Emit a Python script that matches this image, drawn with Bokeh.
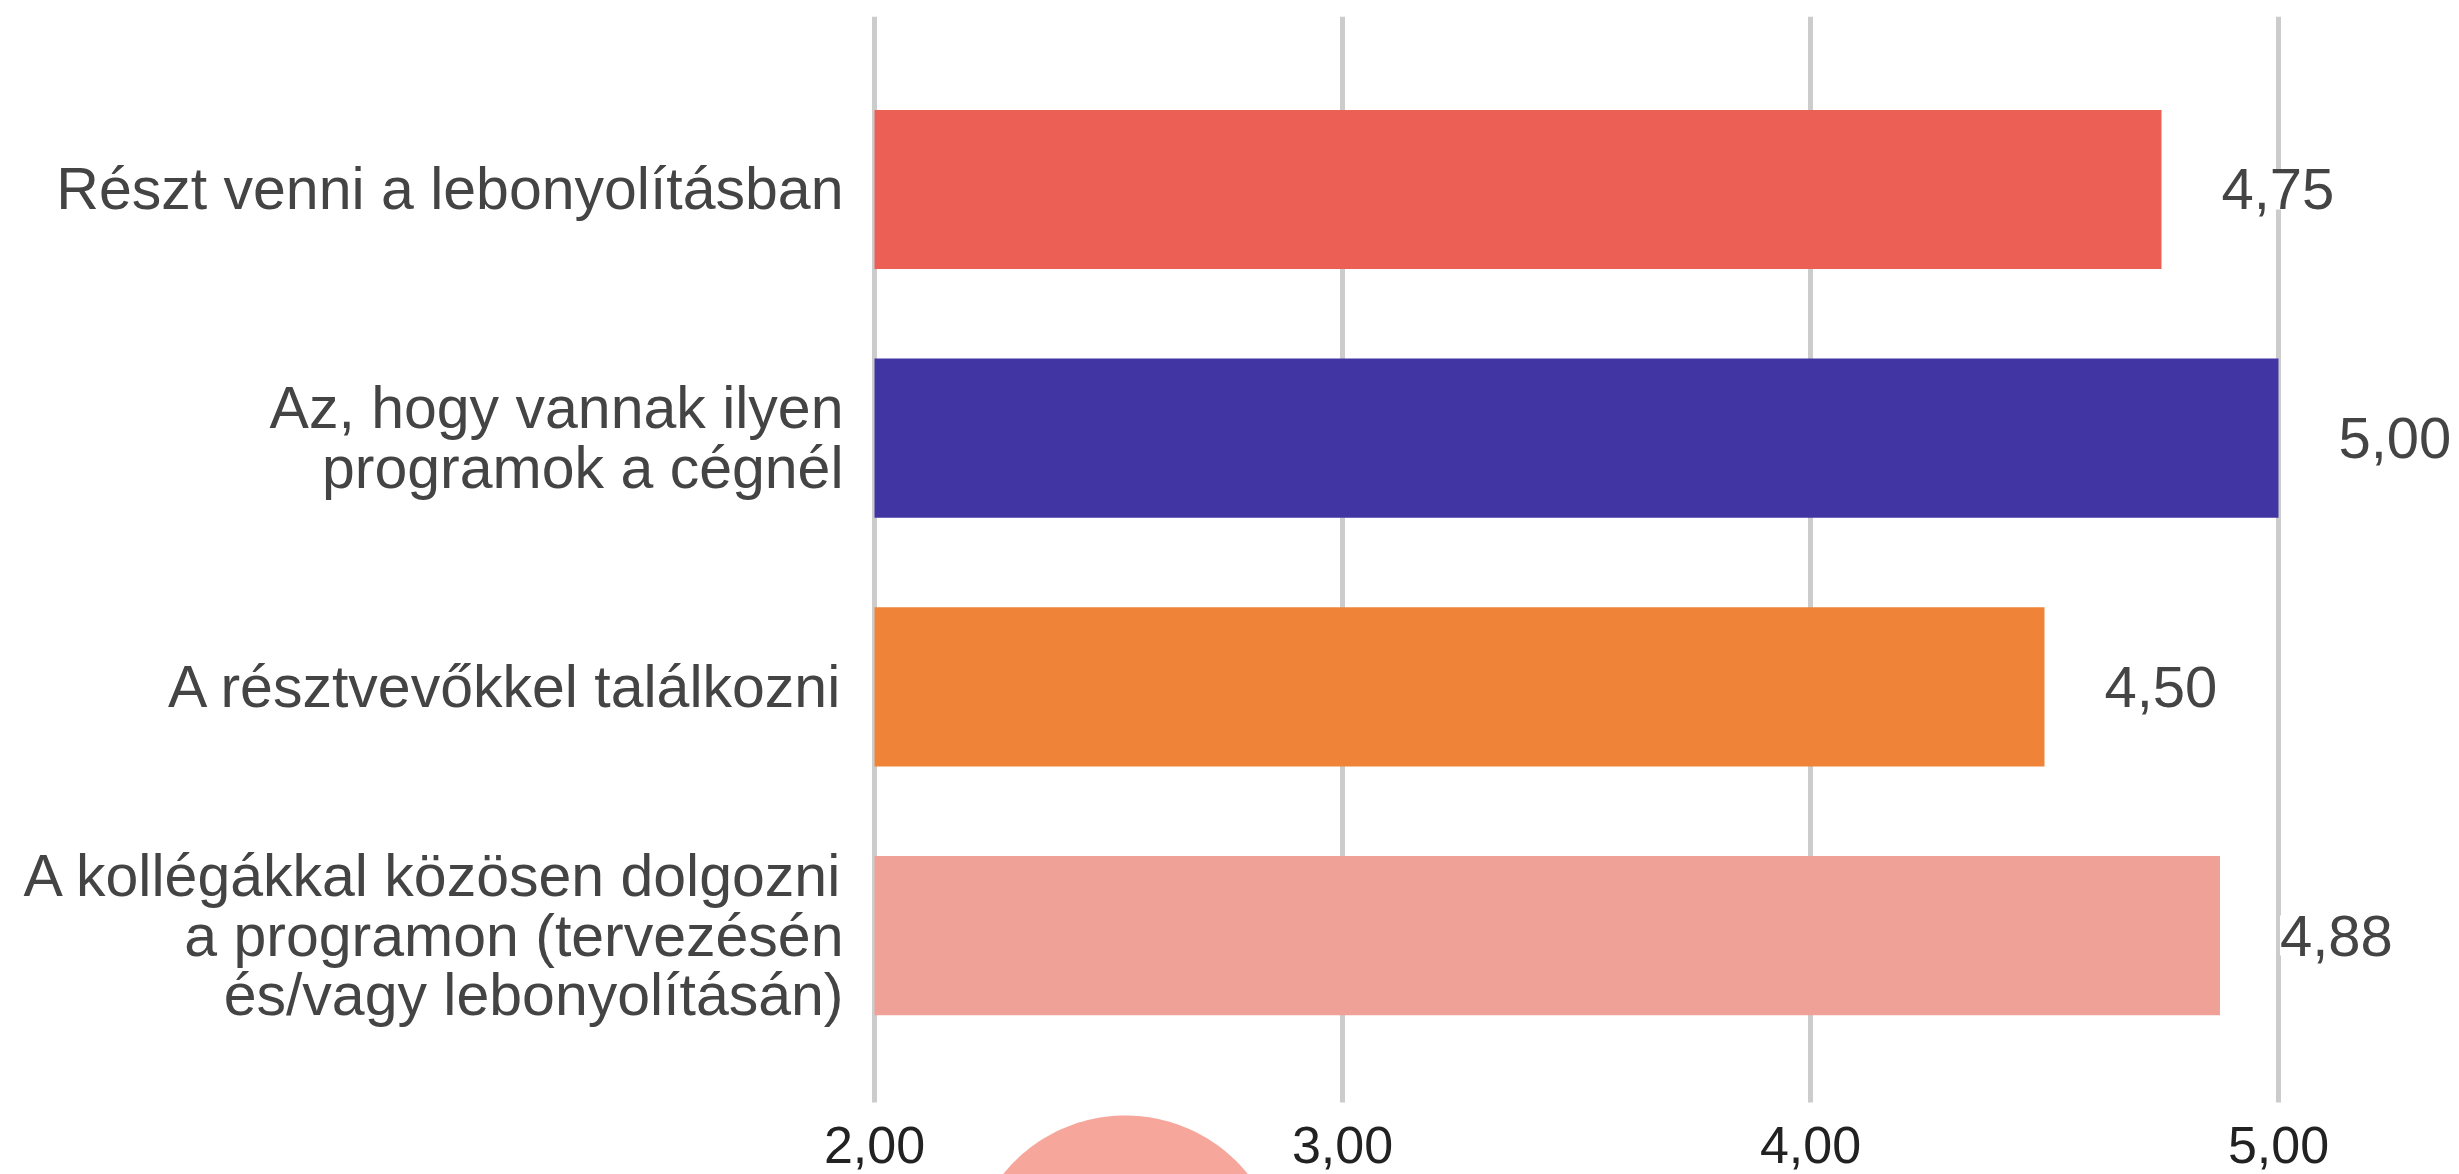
import numpy as np
from bokeh.plotting import figure
from bokeh.models import (Range1d, FixedTicker, ColumnDataSource, LabelSet, PolyAnnotation)
from bokeh.core.properties import value
from bokeh.embed import file_html
from bokeh.resources import INLINE

# ---- data ----
categories = [
    "Részt venni a lebonyolításban",
    "Az, hogy vannak ilyen\nprogramok a cégnél",
    "A résztvevőkkel találkozni",
    "A kollégákkal közösen dolgozni\na programon (tervezésén\nés/vagy lebonyolításán)",
]
values = [4.75, 5.00, 4.50, 4.875]
bar_colors = ["#EB5F55", "#4135A3", "#EF8337", "#EFA198"]
x_ticks = [2, 3, 4, 5]
x_tick_labels = ["2,00", "3,00", "4,00", "5,00"]
value_labels = [f"{v:.2f}".replace(".", ",") for v in values]

# category slots: first category on top
y_pos = list(range(len(categories)))[::-1]

FONT = "Liberation Sans"
W, H = 2459, 1174
X_BASE = 2                # bars start at the axis minimum
X_START, X_END = 1.8718, 5.3868
AXIS_Y = -0.671           # where the value axis sits (bottom end of the grid lines)
Y_START, Y_END = -0.9606, 3.6956

src = ColumnDataSource(dict(y=y_pos, val=values, color=bar_colors, label=value_labels))

p = figure(width=W, height=H, output_backend="svg", toolbar_location=None,
           y_range=Range1d(Y_START, Y_END), x_range=Range1d(X_START, X_END),
           min_border_left=814, min_border_right=0, min_border_top=16, min_border_bottom=0)
p.outline_line_color = None
p.background_fill_color = "white"
p.border_fill_color = "white"

p.hbar(y="y", left=X_BASE, right="val", height=0.64, fill_color="color",
       line_color=None, source=src)

labels = LabelSet(x="val", y="y", text="label", source=src, x_offset=60,
                  text_align="left", text_baseline="middle",
                  text_font=value(FONT), text_font_size="58px", text_color="#444444",
                  background_fill_color="white")
p.add_layout(labels)

# category axis
p.yaxis.ticker = FixedTicker(ticks=y_pos)
p.yaxis.major_label_overrides = dict(zip(y_pos, categories))
p.yaxis.major_label_text_font = FONT
p.yaxis.major_label_text_font_size = "59px"
p.yaxis.major_label_text_color = "#444444"
p.yaxis.major_label_text_line_height = 0.9
p.yaxis.major_label_standoff = -29
p.yaxis.major_tick_out = 0
p.yaxis.major_tick_in = 0
p.yaxis.axis_line_color = None
p.yaxis.major_tick_line_color = None
p.yaxis.minor_tick_line_color = None

# value axis
p.xaxis.ticker = FixedTicker(ticks=x_ticks)
p.xaxis.major_label_overrides = dict(zip(x_ticks, x_tick_labels))
p.xaxis.fixed_location = AXIS_Y
p.xaxis.major_label_text_font = FONT
p.xaxis.major_label_text_font_size = "52px"
p.xaxis.major_label_text_color = "#222222"
p.xaxis.major_label_standoff = 25
p.xaxis.major_tick_out = 0
p.xaxis.major_tick_in = 0
p.xaxis.axis_line_color = None
p.xaxis.major_tick_line_color = None
p.xaxis.minor_tick_line_color = None

p.xgrid.ticker = FixedTicker(ticks=x_ticks)
p.xgrid.grid_line_color = "#CCCCCC"
p.xgrid.grid_line_width = 5
p.xgrid.cross_bounds = (AXIS_Y, Y_END)
p.ygrid.grid_line_color = None

# decorative round button partly visible at the bottom
t = np.linspace(0, 2 * np.pi, 240)
cx, cy, r = 1125, 1272, 157
badge = PolyAnnotation(xs=list(cx + r * np.cos(t)), ys=list(cy + r * np.sin(t)),
                       xs_units="canvas", ys_units="canvas",
                       fill_color="#F6A69A", fill_alpha=1.0, line_color=None,
                       level="overlay")
p.add_layout(badge)

open("out.html", "w").write(file_html(p, INLINE))
